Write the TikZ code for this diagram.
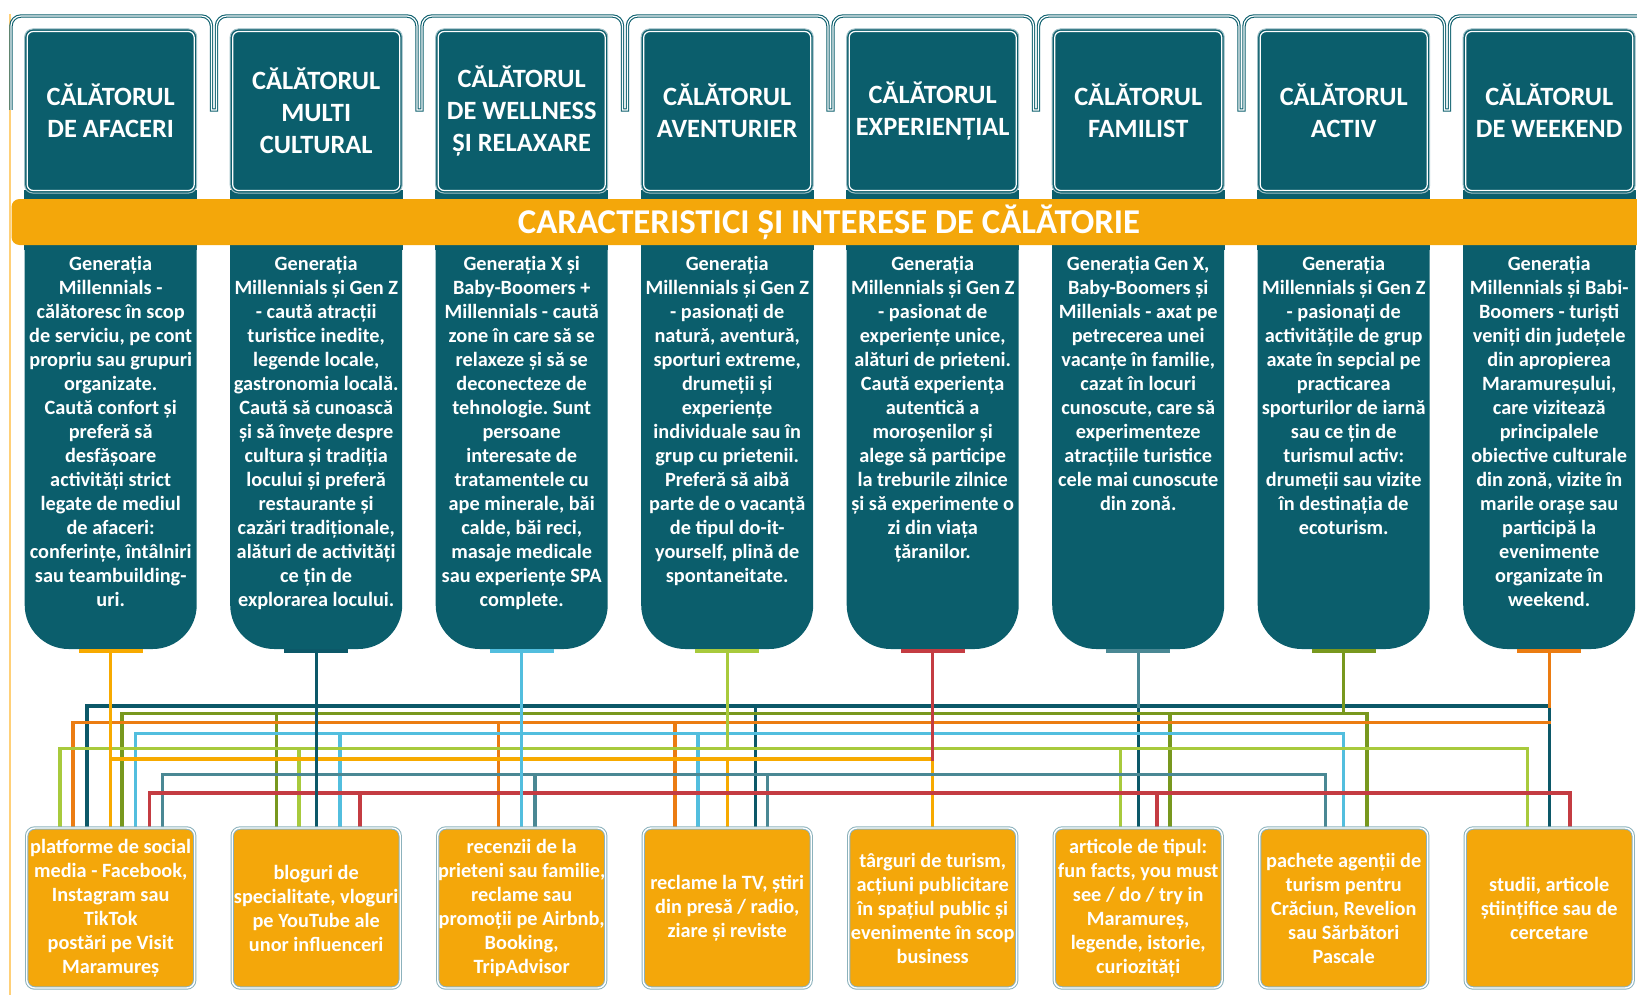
\documentclass[tikz,border=0pt]{standalone}
\usepackage{fontspec}
\setmainfont{Carlito}
\frenchspacing
\usetikzlibrary{calc,backgrounds}
\definecolor{hdrteal}{RGB}{11,94,108}
\definecolor{hdredge}{RGB}{160,192,199}
\definecolor{boxorange}{RGB}{244,167,10}
\definecolor{boxedge}{RGB}{140,178,188}
\definecolor{edgeamber}{RGB}{255,208,120}
\definecolor{lnamber}{RGB}{247,170,0}
\definecolor{lnorange}{RGB}{235,124,18}
\definecolor{lnblue}{RGB}{82,190,222}
\definecolor{lngreen}{RGB}{168,202,60}
\definecolor{lnolive}{RGB}{120,152,30}
\definecolor{lnred}{RGB}{196,60,66}
\definecolor{lngray}{RGB}{74,136,148}
\definecolor{lnteal}{RGB}{12,88,104}

\tikzset{
  hdr/.style={fill=hdrteal, draw=hdredge, line width=0.5pt, rounded corners=4pt,
    minimum width=86pt, minimum height=82pt, inner sep=0pt, align=center,
    text=white, font=\fontsize{13.2pt}{15.9pt}\selectfont\bfseries},
  hdrline/.style={draw=hdrteal, double=white, double distance=0.6pt, line width=0.55pt},
  bodyshape/.style={fill=hdrteal, rounded corners=22pt, minimum width=86pt,
    minimum height=229.5pt, inner sep=0pt},
  bodytxt/.style={anchor=north, inner sep=0pt, align=center, text=white,
    font=\fontsize{10.15pt}{12pt}\selectfont\bfseries},
  banner/.style={fill=boxorange, rounded corners=4pt, minimum width=817.5pt,
    minimum height=23pt, inner sep=0pt, text=white,
    font=\fontsize{17.4pt}{20pt}\selectfont\bfseries},
  media/.style={fill=boxorange, draw=boxedge, double=white, double distance=0.7pt,
    line width=0.5pt, rounded corners=4pt, minimum width=84pt, minimum height=80pt,
    inner sep=0pt, align=center, text=white,
    font=\fontsize{10.15pt}{12pt}\selectfont\bfseries},
  ln/.style={line width=1.6pt, line cap=rect},
}

\begin{document}
\begin{tikzpicture}[x=0.5pt, y=-0.5pt]
  \useasboundingbox (0,0) rectangle (1637,995);

  % Left margin rule
  \draw[edgeamber, line width=0.8pt] (10,14) -- (10,995);

  % Bracket outline above the headers
  \draw[hdrline] (11,110)
    \foreach \k in {0,...,7} {
      -- ({11+205.5*\k},26) arc[start angle=180, end angle=90, radius=5pt]
      -- ({201.5+205.5*\k},16) arc[start angle=90, end angle=0, radius=5pt]
      -- ({211.5+205.5*\k},110) -- ({11+205.5*(\k+1)},110)
    };

  % Column bodies and colour tabs
  \foreach \i/\tc in {1/lnamber,2/lnteal,3/lnblue,4/lngreen,5/lnred,6/lngray,7/lnolive,8/lnorange} {
    \pgfmathsetmacro{\cx}{110.7+205.5*(\i-1)}
    \node[bodyshape] (b\i) at (\cx,419.5) {};
    \fill[hdrteal] (b\i.north west) rectangle ($(b\i.north east)+(0,60)$);
    \fill[fill=\tc] ($(b\i.south)+(-32,0)$) rectangle ($(b\i.south)+(32,4)$);
    \coordinate (t\i) at ($(b\i.south)+(0,4)$);
  }

  % Headers
  \node[hdr] (h1) at (110.7,111) {CĂLĂTORUL\\DE AFACERI};
  \node[hdr] (h2) at (316.2,111) {CĂLĂTORUL\\MULTI\\CULTURAL};
  \node[hdr] (h3) at (521.7,111) {CĂLĂTORUL\\DE WELLNESS\\ȘI RELAXARE};
  \node[hdr] (h4) at (727.2,111) {CĂLĂTORUL\\AVENTURIER};
  \node[hdr] (h5) at (932.7,111) {CĂLĂTORUL\\EXPERIENȚIAL};
  \node[hdr] (h6) at (1138.2,111) {CĂLĂTORUL\\FAMILIST};
  \node[hdr] (h7) at (1343.7,111) {CĂLĂTORUL\\ACTIV};
  \node[hdr] (h8) at (1549.2,111) {CĂLĂTORUL\\DE WEEKEND};
  \foreach \i in {1,...,8}
    \draw[white, line width=0.6pt, rounded corners=3pt]
      ($(h\i.south west)+(3,-3)$) rectangle ($(h\i.north east)+(-3,3)$);

  % Banner
  \node[banner] (band) at (829,222) {CARACTERISTICI ȘI INTERESE DE CĂLĂTORIE};

  % Profile texts
  \node[bodytxt] (g1) at (110.7,256) {Generația\\Millennials -\\călătoresc în scop\\de serviciu, pe cont\\propriu sau grupuri\\organizate.\\Caută confort și\\preferă să\\desfășoare\\activități strict\\legate de mediul\\de afaceri:\\conferințe, întâlniri\\sau teambuilding-\\uri.};
  \node[bodytxt] (g2) at (316.2,256) {Generația\\Millennials și Gen Z\\- caută atracții\\turistice inedite,\\legende locale,\\gastronomia locală.\\Caută să cunoască\\și să învețe despre\\cultura și tradiția\\locului și preferă\\restaurante și\\cazări tradiționale,\\alături de activități\\ce țin de\\explorarea locului.};
  \node[bodytxt] (g3) at (521.7,256) {Generația X și\\Baby-Boomers +\\Millennials - caută\\zone în care să se\\relaxeze și să se\\deconecteze de\\tehnologie. Sunt\\persoane\\interesate de\\tratamentele cu\\ape minerale, băi\\calde, băi reci,\\masaje medicale\\sau experiențe SPA\\complete.};
  \node[bodytxt] (g4) at (727.2,256) {Generația\\Millennials și Gen Z\\- pasionați de\\natură, aventură,\\sporturi extreme,\\drumeții și\\experiențe\\individuale sau în\\grup cu prietenii.\\Preferă să aibă\\parte de o vacanță\\de tipul do-it-\\yourself, plină de\\spontaneitate.};
  \node[bodytxt] (g5) at (932.7,256) {Generația\\Millennials și Gen Z\\- pasionat de\\experiențe unice,\\alături de prieteni.\\Caută experiența\\autentică a\\moroșenilor și\\alege să participe\\la treburile zilnice\\și să experimente o\\zi din viața\\țăranilor.};
  \node[bodytxt] (g6) at (1138.2,256) {Generația Gen X,\\Baby-Boomers și\\Millenials - axat pe\\petrecerea unei\\vacanțe în familie,\\cazat în locuri\\cunoscute, care să\\experimenteze\\atracțiile turistice\\cele mai cunoscute\\din zonă.};
  \node[bodytxt] (g7) at (1343.7,256) {Generația\\Millennials și Gen Z\\- pasionați de\\activitățile de grup\\axate în sepcial pe\\practicarea\\sporturilor de iarnă\\sau ce țin de\\turismul activ:\\drumeții sau vizite\\în destinația de\\ecoturism.};
  \node[bodytxt] (g8) at (1549.2,256) {Generația\\Millennials și Babi-\\Boomers - turiști\\veniți din județele\\din apropierea\\Maramureșului,\\care vizitează\\principalele\\obiective culturale\\din zonă, vizite în\\marile orașe sau\\participă la\\evenimente\\organizate în\\weekend.};

  % Information sources
  \node[media] (m1) at (110.7,908) {platforme de social\\media - Facebook,\\Instagram sau\\TikTok\\postări pe Visit\\Maramureș};
  \node[media] (m2) at (316.2,908) {bloguri de\\specialitate, vloguri\\pe YouTube ale\\unor influenceri};
  \node[media] (m3) at (521.7,908) {recenzii de la\\prieteni sau familie,\\reclame sau\\promoții pe Airbnb,\\Booking,\\TripAdvisor};
  \node[media] (m4) at (727.2,908) {reclame la TV, știri\\din presă / radio,\\ziare și reviste};
  \node[media] (m5) at (932.7,908) {târguri de turism,\\acțiuni publicitare\\în spațiul public și\\evenimente în scop\\business};
  \node[media] (m6) at (1138.2,908) {articole de tipul:\\fun facts, you must\\see / do / try in\\Maramureș,\\legende, istorie,\\curiozități};
  \node[media] (m7) at (1343.7,908) {pachete agenții de\\turism pentru\\Crăciun, Revelion\\sau Sărbători\\Pascale};
  \node[media] (m8) at (1549.2,908) {studii, articole\\științifice sau de\\cercetare};

  % Connectors
  \begin{scope}[on background layer]
    % bus levels
    \coordinate (yteal) at (0,706);
    \coordinate (yolive) at (0,713.3);
    \coordinate (yorange) at (0,722.3);
    \coordinate (yblue) at (0,733.5);
    \coordinate (ygreen) at (0,748.5);
    \coordinate (yamber) at (0,759);
    \coordinate (ygray) at (0,774.5);
    \coordinate (yred) at (0,793);

    % drops into the source boxes
    \foreach \bc/\dl in {teal/{1/-23.7,4/28.4,6/0,8/0},
        olive/{1/11.3,2/-39.7,6/31.8,7/23.3},
        orange/{1/-37.7,3/-23.4,4/-52.2},
        blue/{1/24.7,2/23.8,4/-29.2,7/0},
        green/{1/-50.7,2/-17.2,6/-17.6,8/-21.6},
        amber/{4/0,5/0},
        gray/{1/52,3/13.3,4/40.5,7/-18.3},
        red/{1/38.8,2/43.8,6/18.8,8/20.8}}
      \foreach \bx/\dx [count=\n] in \dl
        \draw[ln, draw=ln\bc] ($(m\bx.north)+(\dx,0)$) coordinate (d)
          -- (d |- y\bc) coordinate (\bc\n);

    % horizontal buses
    \draw[ln, draw=lnteal] (teal1) -- (teal4);
    \draw[ln, draw=lnolive] (olive1) -- (olive4);
    \draw[ln, draw=lnorange] (orange1) -- (t8 |- yorange);
    \draw[ln, draw=lnblue] (blue1) -- (blue4);
    \draw[ln, draw=lngreen] (green1) -- (green4);
    \draw[ln, draw=lnamber] (t1 |- yamber) -- (amber2);
    \draw[ln, draw=lngray] (gray1) -- (gray4);
    \draw[ln, draw=lnred] (red1) -- (red4);

    % stems from the column tabs
    \draw[ln, draw=lnamber] (t1) -- (m1.north);
    \draw[ln, draw=lnteal] (t2) -- (m2.north);
    \draw[ln, draw=lnblue] (t3) -- (m3.north);
    \draw[ln, draw=lngreen] (t4) -- (t4 |- ygreen);
    \draw[ln, draw=lnred] (t5) -- (t5 |- yamber);
    \draw[ln, draw=lngray] (t6) -- (t6 |- yteal);
    \draw[ln, draw=lnolive] (t7) -- (t7 |- yolive);
    \draw[ln, draw=lnorange] (t8) -- (t8 |- yteal);
  \end{scope}
\end{tikzpicture}
\end{document}
